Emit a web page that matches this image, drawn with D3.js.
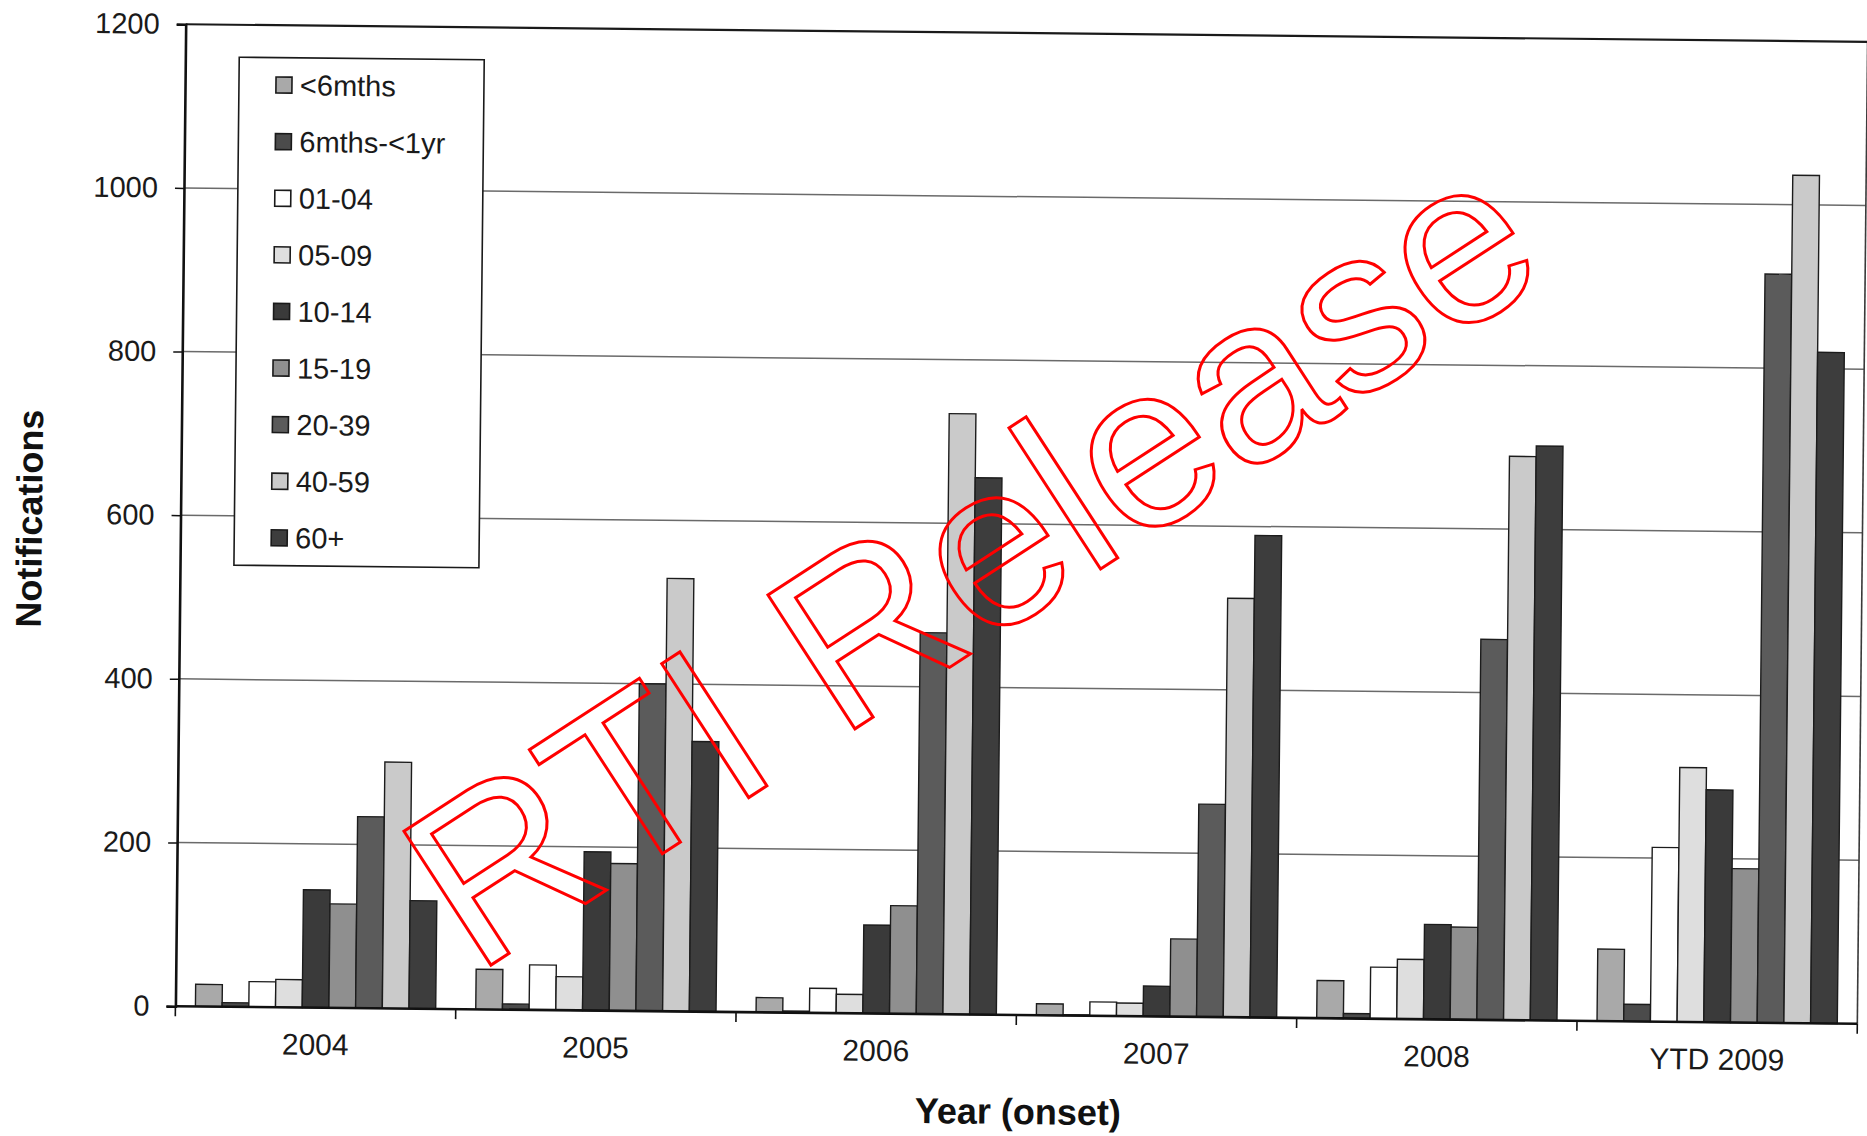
<!DOCTYPE html>
<html>
<head>
<meta charset="utf-8">
<script src="https://cdn.jsdelivr.net/npm/d3@7"></script>
<style>
  html, body { margin: 0; padding: 0; background: #fff; }
  svg { display: block; font-family: "Liberation Sans", Arial, sans-serif; }
</style>
</head>
<body>
<svg id="chart" width="1867" height="1136"></svg>
<script>
// Onset year groups
const categories = ["2004", "2005", "2006", "2007", "2008", "YTD 2009"];

// Age groups (one bar each per year)
const ageGroups = ["<6mths", "6mths-<1yr", "01-04", "05-09", "10-14", "15-19", "20-39", "40-59", "60+"];

// Notifications per age group, in category order
const lt6mths   = [27, 49, 18, 14, 46, 88];
const m6to1yr   = [5, 7, 2, 1, 6, 21];
const age01_04  = [31, 55, 30, 17, 63, 213];
const age05_09  = [34, 41, 23, 16, 73, 311];
const age10_14  = [144, 194, 108, 37, 116, 284];
const age15_19  = [127, 180, 132, 95, 113, 188];
const age20_39  = [234, 400, 466, 260, 465, 915];
const age40_59  = [301, 529, 734, 512, 689, 1036];
const age60plus = [132, 330, 656, 589, 702, 820];

const seriesValues = [lt6mths, m6to1yr, age01_04, age05_09, age10_14, age15_19, age20_39, age40_59, age60plus];

// Grey fills per age group
const fills = ["#a9a9a9", "#4b4b4b", "#ffffff", "#dedede", "#3a3a3a", "#8f8f8f", "#5b5b5b", "#cacaca", "#3d3d3d"];

// Y axis ticks
const yTicks = [0, 200, 400, 600, 800, 1000, 1200];

const svg = d3.select("#chart");

// Page content sits slightly skewed, as on the printed sheet
const page = svg.append("g").attr("transform", "rotate(0.6,1019.5,524)");

const L = 180.5, T = 33, W = 1682, H = 982;
const g = page.append("g").attr("transform", `translate(${L},${T})`);

const x0 = d3.scaleBand().domain(categories).range([0, W]).padding(0);
const x1 = d3.scaleBand().domain(ageGroups).range([0, x0.bandwidth()])
  .paddingInner(0).paddingOuter(0.75);
const y = d3.scaleLinear().domain([0, 1200]).range([H, 0]);
const color = d3.scaleOrdinal().domain(ageGroups).range(fills);

// Gridlines
g.append("g").selectAll("line")
  .data(yTicks.filter(t => t > 0 && t < 1200))
  .join("line")
  .attr("x1", 0).attr("x2", W)
  .attr("y1", d => y(d)).attr("y2", d => y(d))
  .attr("stroke", "#6a6a6a").attr("stroke-width", 1.5);

// Plot frame (top and right)
g.append("line").attr("x1", 0).attr("x2", W).attr("y1", y(1200)).attr("y2", y(1200))
  .attr("stroke", "#1a1a1a").attr("stroke-width", 2.2);
g.append("line").attr("x1", W).attr("x2", W).attr("y1", 0).attr("y2", H)
  .attr("stroke", "#3a3a3a").attr("stroke-width", 1.6);

// Bars
const rows = categories.map((c, i) => ({
  cat: c,
  vals: ageGroups.map((a, j) => ({ key: a, value: seriesValues[j][i] }))
}));

g.append("g").selectAll("g")
  .data(rows)
  .join("g")
  .attr("transform", d => `translate(${x0(d.cat)},0)`)
  .selectAll("rect")
  .data(d => d.vals)
  .join("rect")
  .attr("x", d => x1(d.key))
  .attr("width", x1.bandwidth())
  .attr("y", d => y(d.value))
  .attr("height", d => y(0) - y(d.value))
  .attr("fill", d => color(d.key))
  .attr("stroke", "#1c1c1c")
  .attr("stroke-width", 1.4);

// Y axis
const yAxis = g.append("g")
  .call(d3.axisLeft(y).tickValues(yTicks).tickSize(9).tickPadding(17).tickFormat(d3.format("d")));
yAxis.select(".domain").attr("stroke", "#111").attr("stroke-width", 2.6);
yAxis.selectAll(".tick line").attr("stroke", "#111").attr("stroke-width", 1.5);
yAxis.selectAll(".tick text").attr("font-size", 29).attr("fill", "#1a1a1a")
  .attr("font-family", "'Liberation Sans', Arial, sans-serif");

// X axis: category labels
const xAxis = g.append("g").attr("transform", `translate(0,${H})`)
  .call(d3.axisBottom(x0).tickSize(0).tickPadding(26));
xAxis.select(".domain").remove();
xAxis.selectAll(".tick text").attr("font-size", 30).attr("fill", "#1a1a1a")
  .attr("font-family", "'Liberation Sans', Arial, sans-serif");

// X axis line and boundary ticks
g.append("line").attr("x1", 0).attr("x2", W).attr("y1", H).attr("y2", H)
  .attr("stroke", "#111").attr("stroke-width", 2.6);
g.append("g").selectAll("line")
  .data(categories.map(c => x0(c)).concat([W]))
  .join("line")
  .attr("x1", d => d).attr("x2", d => d)
  .attr("y1", H).attr("y2", H + 10)
  .attr("stroke", "#111").attr("stroke-width", 1.6);

// Axis titles
page.append("text")
  .attr("transform", "translate(42,529) rotate(-90)")
  .attr("text-anchor", "middle")
  .attr("font-size", 36).attr("font-weight", "bold").attr("fill", "#111")
  .text("Notifications");

page.append("text")
  .attr("x", 1024).attr("y", 1124)
  .attr("text-anchor", "middle")
  .attr("font-size", 36).attr("font-weight", "bold").attr("fill", "#111")
  .text("Year (onset)");

// Legend
const LX = 234.4, LY = 65.4, LW = 245, LH = 508;
const legend = page.append("g").attr("transform", `translate(${LX},${LY})`);
legend.append("rect").attr("width", LW).attr("height", LH)
  .attr("fill", "#fff").attr("stroke", "#1a1a1a").attr("stroke-width", 1.6);

const item = legend.selectAll("g.item")
  .data(ageGroups)
  .join("g")
  .attr("class", "item")
  .attr("transform", (d, i) => `translate(0,${27.4 + i * 56.6})`);
item.append("rect")
  .attr("x", 37).attr("y", -8).attr("width", 16).attr("height", 16)
  .attr("fill", d => color(d)).attr("stroke", "#1a1a1a").attr("stroke-width", 1.6);
item.append("text")
  .attr("x", 61).attr("dy", "0.35em")
  .attr("font-size", 29).attr("fill", "#1a1a1a")
  .text(d => d);

// Release stamp across the chart
svg.append("text")
  .attr("transform", "translate(970,558) rotate(-33)")
  .attr("text-anchor", "middle")
  .attr("dominant-baseline", "central")
  .attr("font-size", 232)
  .attr("fill", "none")
  .attr("stroke", "#ff0000")
  .attr("stroke-width", 3)
  .text("RTI Release");
</script>
</body>
</html>
